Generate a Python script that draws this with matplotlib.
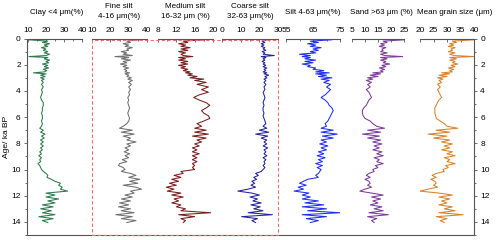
import matplotlib
matplotlib.use("Agg")
import matplotlib.pyplot as plt
from matplotlib.patches import Rectangle
from matplotlib.ticker import MultipleLocator

plt.rcParams['font.family'] = ['Liberation Sans', 'DejaVu Sans']
plt.rcParams['font.size'] = 6

# sample ages (ka BP)
age = [0.0, 0.05, 0.1, 0.2, 0.3, 0.4, 0.5, 0.6, 0.7, 0.8,
       0.9, 1.0, 1.1, 1.2, 1.3, 1.38, 1.45, 1.55, 1.65, 1.75,
       1.85, 1.95, 2.05, 2.15, 2.25, 2.35, 2.45, 2.55, 2.62, 2.7,
       2.8, 2.9, 3.0, 3.1, 3.2, 3.35, 3.5, 3.7, 3.9, 4.1,
       4.3, 4.5, 4.7, 4.9, 5.1, 5.3, 5.5, 5.7, 5.9, 6.1,
       6.3, 6.5, 6.7, 6.85, 7.0, 7.15, 7.3, 7.45, 7.6, 7.75,
       7.9, 8.05, 8.2, 8.35, 8.5, 8.65, 8.8, 8.95, 9.1, 9.25,
       9.4, 9.55, 9.7, 9.85, 10.0, 10.15, 10.3, 10.45, 10.6, 10.75,
       10.9, 11.05, 11.2, 11.35, 11.5, 11.65, 11.8, 11.95, 12.1, 12.25,
       12.4, 12.55, 12.7, 12.85, 13.0, 13.15, 13.3, 13.45, 13.6, 13.75,
       13.9, 14.05]

clay = [11, 20, 10.5, 21, 18, 22, 19, 21, 17.5, 20,
        18.5, 21, 19, 22, 20, 10.5, 21, 19, 22, 20,
        21.5, 18, 21, 19, 21.5, 18.5, 20.5, 19, 13, 20,
        17, 19.5, 17, 19, 17.5, 18.5, 17.5, 18.5, 17.5, 18,
        17.5, 17, 17.5, 18.5, 18.5, 18, 18, 17.5, 18, 18,
        17.5, 18, 17.5, 16.5, 18.5, 17, 19.5, 17.5, 19, 17,
        18.5, 17, 18.5, 17, 18, 16.5, 17.5, 16, 17.5, 16.5,
        17, 15.5, 16.5, 17, 17.5, 18.5, 20, 21, 20.5, 23,
        25, 28, 27, 29, 28, 32, 20, 25, 20, 27,
        21, 25, 18, 24, 17, 23, 18, 25, 16, 24,
        18, 21]

fine = [34, 27, 35, 29, 31, 27, 30, 28, 32, 29,
        30, 26, 29, 27, 32, 22.5, 30, 26, 31, 27,
        29, 25.5, 29, 27, 30, 27.5, 29, 28, 30.5, 28,
        30, 29, 31.5, 29.5, 32, 30, 31.5, 30, 31, 30,
        30.5, 29.5, 30, 29.5, 30, 30.5, 30, 29.5, 30, 30.5,
        30, 29, 27, 25, 32, 26, 33, 27, 31, 29,
        34, 29, 31, 28, 30, 27.5, 30.5, 28, 30, 26.5,
        29, 25, 24.5, 27, 28, 26, 31, 34, 30, 36,
        30.5, 35, 27, 34, 37, 31, 33, 28, 32, 26,
        31, 25, 30, 24.5, 31, 26, 33, 23, 32, 26,
        34, 29]

medium = [19.5, 13, 18, 13.5, 14.5, 12.5, 14, 13, 15, 13,
          14.5, 12.5, 14, 13, 13.5, 15.6, 12.5, 14, 12.5, 14.5,
          13, 14.5, 12.5, 14, 13, 14.5, 13.5, 15, 14, 15.5,
          14.5, 16.5, 15, 18, 16, 18.5, 16.5, 19, 17.5, 19,
          17, 15.8, 17, 18.5, 19.3, 18.5, 17.5, 18, 19, 19.3,
          18, 16.5, 17.5, 16, 18.5, 16, 19, 15.5, 18.5, 16.5,
          17.5, 16, 17, 15.5, 16.5, 15.5, 17, 15.5, 16.5, 15.5,
          16.5, 15.5, 16, 15.5, 16, 13, 13.5, 11.5, 13, 11,
          12.5, 10.5, 12, 9.8, 11.5, 10, 13, 11, 13.5, 11.5,
          12.5, 11, 13, 12, 14, 13, 19.5, 12.5, 16, 13,
          14, 13.5]

coarse = [25.5, 20, 24, 21.5, 23, 21, 22.5, 21, 23, 22,
          23.5, 21.5, 23, 22, 28, 21, 23.5, 22, 23, 21.5,
          23, 22, 23.5, 22, 24, 22.5, 23.5, 22, 24, 22.5,
          25, 23, 24, 22.5, 23.5, 22.5, 23.5, 22.5, 23, 22,
          22.5, 23, 22.5, 22, 22.5, 22, 22, 22.5, 22, 22.5,
          23, 23.5, 22, 24, 20, 25, 18, 24.5, 21, 24,
          22.5, 24, 22, 24.5, 22.5, 23.5, 22.5, 24, 22, 23.5,
          22.5, 23, 22, 23, 22, 21, 18, 19.5, 17, 18.5,
          16, 17.5, 15.5, 18, 14, 8.5, 16, 20, 15, 19,
          16.5, 21, 15.5, 20.5, 17, 22, 14, 27, 10.5, 19,
          16, 18]

silt = [70, 63, 72, 64, 67, 63, 66, 64, 68, 65,
        67, 64, 66, 60, 64, 61, 64, 62, 66, 62,
        65, 61, 64, 63, 66, 65, 69, 66, 71, 66,
        70, 67, 72, 68, 71, 69, 71.5, 70, 71.5, 70.5,
        69.5, 68, 69.5, 70.5, 71, 72, 72.5, 72, 71.5, 71,
        70.5, 69.5, 70, 68, 72.5, 68, 74, 68.5, 72.5, 68,
        70, 67.5, 70.5, 68, 70, 67, 69, 66.5, 69.5, 67,
        68.5, 66, 68.5, 66.5, 68, 67.5, 67, 66, 67, 63,
        61.5, 60, 62.5, 59.5, 61.5, 58, 63.5, 61, 64, 61,
        67, 62, 69, 61, 70, 63, 75, 61, 70, 62.5,
        67, 64]

sand = [23, 16, 25, 17, 18.5, 16, 17.5, 15.5, 18, 16.5,
        17, 16, 18.5, 16, 17.5, 24.5, 16, 18.5, 16, 18,
        17, 19.5, 16.5, 18, 15.5, 17.5, 16, 17, 13, 16,
        12, 15, 11, 13, 10.5, 12.5, 11, 12, 10.5, 11.5,
        12, 12.5, 11.5, 11, 10.5, 9.5, 9, 9, 9.3, 10,
        12, 13, 14.5, 17.5, 11, 16, 9, 15.5, 11, 16,
        13, 16.5, 13.5, 15.5, 13, 16.5, 14.5, 17, 13.5, 15.5,
        14.5, 17, 14, 15, 13, 13.5, 11.5, 10.5, 12, 10,
        11.5, 12, 11, 12.5, 10, 8, 12.5, 17, 12.5, 16,
        13, 15, 12, 16.5, 13.5, 17, 11.5, 19, 11, 14.5,
        12.5, 13.5]

mean_size = [38, 31, 40, 32, 33.5, 31, 32.5, 30.5, 33, 31.5,
             32, 30.5, 33, 31, 32.5, 40, 31, 33.5, 31, 33,
             32, 34, 31.5, 33, 30.5, 32.5, 31, 32, 28, 31,
             27, 30, 26.5, 28.5, 27, 28, 26.5, 27.5, 26.5, 27,
             27.5, 28, 27, 26.5, 26, 25.5, 25.5, 25.5, 25.8, 26,
             27.5, 29, 30, 34, 26, 31, 23, 30, 25, 31,
             28, 32, 29, 31, 28, 32, 30, 33, 29, 31,
             30, 33, 29.5, 30.5, 28.5, 29, 26, 24.5, 26, 24,
             25.5, 26, 25, 26.5, 23, 20, 27, 32, 27, 31,
             28, 30, 27, 32, 29, 33, 27, 36, 26, 30,
             27.5, 29]

W, H = 500, 240
TOP, BOT = 38.5, 235

fig = plt.figure(figsize=(W / 100, H / 100), dpi=100)


def rect(x0, x1):
    return [x0 / W, (H - BOT) / H, (x1 - x0) / W, (BOT - TOP) / H]


# background axes carrying the age scale on both sides
ax0 = fig.add_axes(rect(27, 474))
ax0.set_ylim(15, 0)
ax0.set_xticks([])
ax0.spines['top'].set_visible(False)
for s in ['left', 'right', 'bottom']:
    ax0.spines[s].set_color('#555555')
    ax0.spines[s].set_linewidth(0.8)
ax0.yaxis.set_major_locator(MultipleLocator(2))
ax0.yaxis.set_minor_locator(MultipleLocator(1))
ax0.tick_params(axis='y', which='both', direction='out', left=True, right=True,
                labelleft=True, labelright=True, length=2.5, width=0.6,
                color='#555555', pad=2, labelsize=6)
ax0.tick_params(axis='y', which='minor', length=1.5)
ax0.set_ylabel('Age/ ka BP', fontsize=6, labelpad=1)

# panels: (values, colour, left px, right px, xlim, major ticks, minor ticks)
panels = [
    (clay, '#2b7a4b', 28, 82, (10, 40), [10, 20, 30, 40], [15, 25, 35]),
    (fine, '#6f6f6f', 92, 147, (10, 40), [10, 20, 30, 40], [15, 25, 35]),
    (medium, '#7a1c1c', 158, 213, (8, 20), [8, 12, 16, 20], [10, 14, 18]),
    (coarse, '#23239a', 222, 278, (0, 30), [0, 10, 20, 30], [5, 15, 25]),
    (silt, '#1f2ff0', 286, 340, (55, 75), [55, 65, 75], [60, 70]),
    (sand, '#7b3c9b', 352, 404, (5, 25), [5, 10, 15, 20, 25], []),
    (mean_size, '#d9822b', 420, 474, (20, 40), [20, 25, 30, 35, 40], []),
]

for vals, col, x0, x1, xl, majors, minors in panels:
    ax = fig.add_axes(rect(x0, x1))
    ax.patch.set_visible(False)
    ax.plot(vals, age, color=col, lw=0.75)
    ax.set_xlim(*xl)
    ax.set_ylim(15, 0)
    ax.set_yticks([])
    for s in ['left', 'right', 'bottom']:
        ax.spines[s].set_visible(False)
    ax.spines['top'].set_color('#555555')
    ax.spines['top'].set_linewidth(0.8)
    ax.xaxis.tick_top()
    ax.set_xticks(majors)
    ax.set_xticks(minors, minor=True)
    ax.tick_params(axis='x', which='both', direction='in', length=2.5,
                   width=0.6, color='#555555', pad=3, labelsize=6)
    ax.tick_params(axis='x', which='minor', length=1.5)

# dashed box round the three silt fractions
fig.add_artist(Rectangle((91.5 / W, (H - BOT) / H), (277.5 - 91.5) / W,
                         (BOT - TOP - 1.5) / H, transform=fig.transFigure,
                         fill=False, ec='#e87070', lw=0.8, ls=(0, (3, 2))))

# panel titles
tfs = 5.8
fig.text(57 / W, 1 - 13 / H, 'Clay <4 μm(%)', ha='center', va='center', fontsize=tfs)
fig.text(119 / W, 1 - 7 / H, 'Fine silt', ha='center', va='center', fontsize=tfs)
fig.text(119 / W, 1 - 17 / H, '4-16 μm(%)', ha='center', va='center', fontsize=tfs)
fig.text(185 / W, 1 - 7 / H, 'Medium silt', ha='center', va='center', fontsize=tfs)
fig.text(185 / W, 1 - 17 / H, '16-32 μm (%)', ha='center', va='center', fontsize=tfs)
fig.text(250 / W, 1 - 7 / H, 'Coarse silt', ha='center', va='center', fontsize=tfs)
fig.text(250 / W, 1 - 17 / H, '32-63 μm(%)', ha='center', va='center', fontsize=tfs)
fig.text(313 / W, 1 - 13 / H, 'Silt 4-63 μm(%)', ha='center', va='center', fontsize=tfs)
fig.text(381 / W, 1 - 13 / H, 'Sand >63 μm (%)', ha='center', va='center', fontsize=tfs)
fig.text(455 / W, 1 - 13 / H, 'Mean grain size (μm)', ha='center', va='center', fontsize=tfs)

plt.savefig('out.png', dpi=100)
